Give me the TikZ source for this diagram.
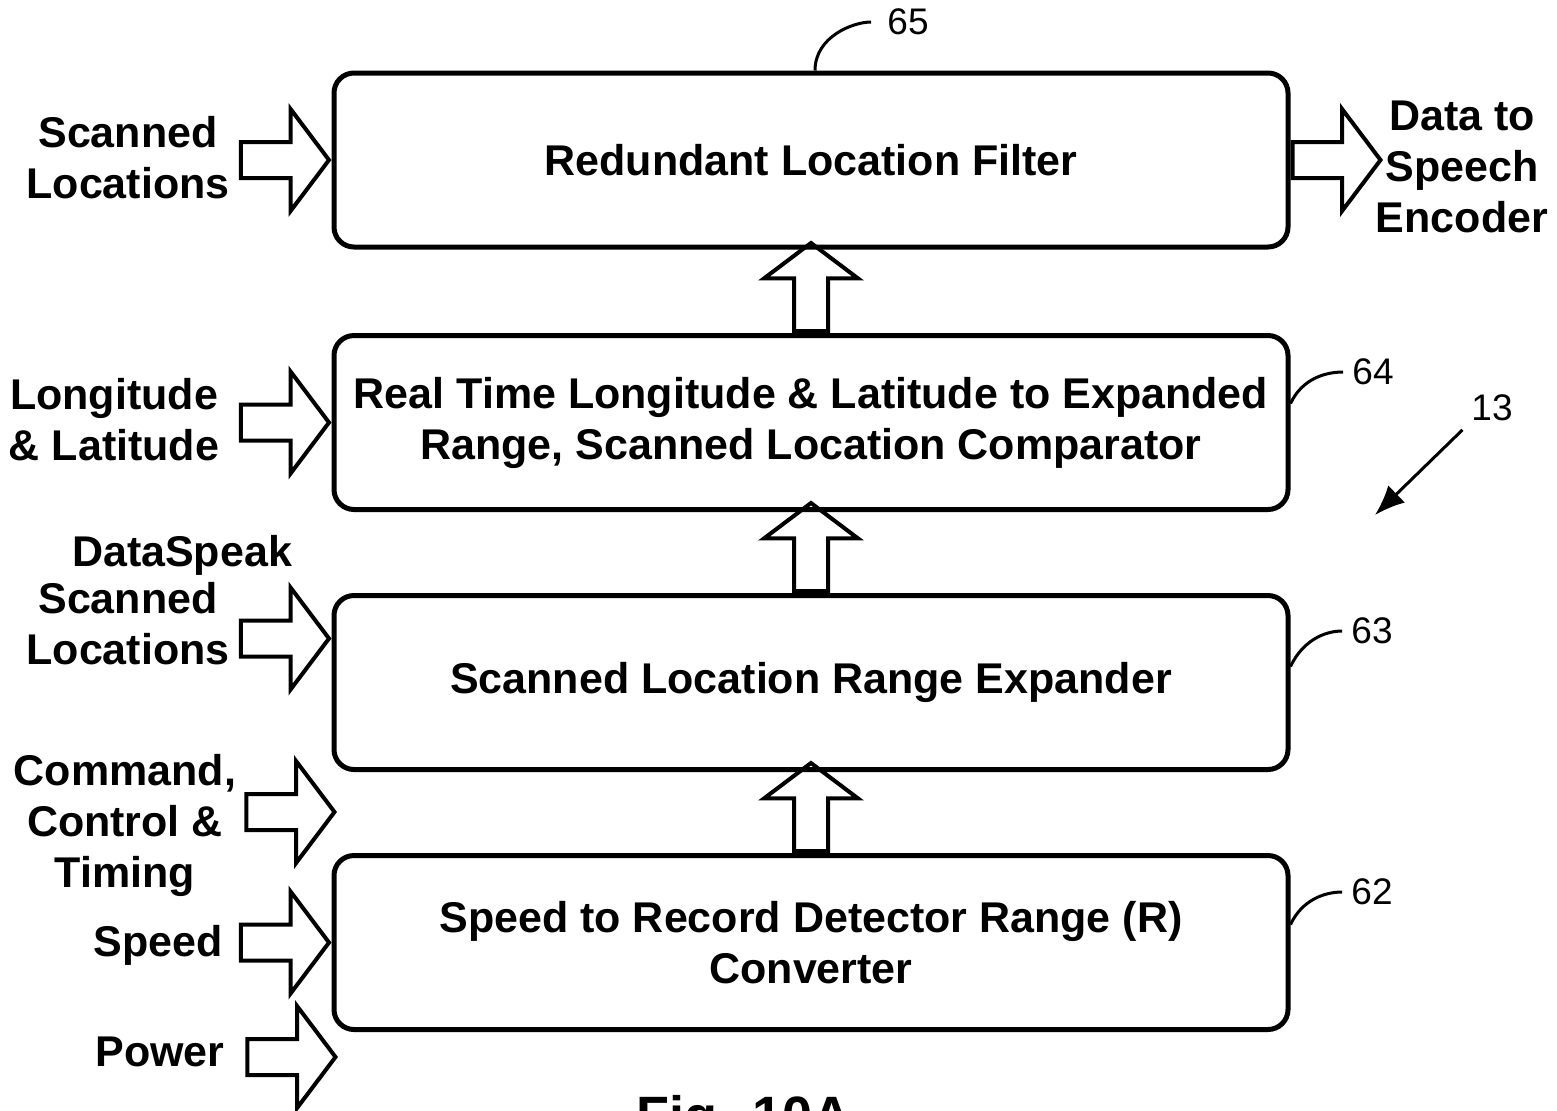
\documentclass[tikz,border=0pt]{standalone}
\usepackage{fontspec}
\setmainfont{Liberation Sans}
\usetikzlibrary{shapes.arrows,arrows.meta}

\tikzset{
  block/.style={draw,line width=2.5pt,rounded corners=10pt,minimum width=477pt,minimum height=87pt,align=center,font=\bfseries\fontsize{21.5}{25.5}\selectfont},
  fat/.style={single arrow,draw,line width=2pt,inner xsep=0pt,inner ysep=8pt,minimum height=44pt,minimum width=49pt,single arrow head extend=16.5pt,single arrow tip angle=106},
  upfat/.style={fat,inner xsep=7.5pt,inner ysep=0pt,minimum width=0pt,single arrow head extend=15pt,shape border rotate=90,anchor=tail},
  lbl/.style={align=center,inner sep=0pt,font=\bfseries\fontsize{21.5}{25.5}\selectfont},
  refnum/.style={inner sep=0pt,font=\fontsize{18.5}{22}\selectfont},
  leader/.style={line width=1.5pt}
}

\begin{document}
\begin{tikzpicture}[x=0.5pt,y=-0.5pt]
  \useasboundingbox (0,0) rectangle (1557,1110);
  \node[block] (b65) at (811,160) {Redundant Location Filter};
  \node[block] (b64) at (811,422.5) {Real Time Longitude \& Latitude to Expanded\\Range, Scanned Location Comparator};
  \node[block] (b63) at (811,682.5) {Scanned Location Range Expander};
  \node[block] (b62) at (811,942.5) {Speed to Record Detector Range (R)\\Converter};
  \node[upfat] (up64) at (b64.north) {};
  \node[upfat] (up63) at (b63.north) {};
  \node[upfat] (up62) at (b62.north) {};
  \node[fat,anchor=tip] (inScan) at (b65.west) {};
  \node[fat,anchor=tip] (inLonLat) at (b64.west) {};
  \node[fat,anchor=tip] (inDataSpeak) at ([yshift=22pt]b63.west) {};
  \node[fat,anchor=tip] (inCmd) at (337,812) {};
  \node[fat,anchor=tip] (inSpeed) at (b62.west) {};
  \node[fat,anchor=tip] (inPower) at (338,1057) {};
  \node[fat,anchor=tail] (outData) at (b65.east) {};
  \node[lbl] (tScan) at (128,158) {Scanned\\Locations};
  \node[lbl] (tLonLat) at (114,420) {Longitude\\\& Latitude};
  \node[lbl,anchor=base] (tDataSpeak) at (182,566) {DataSpeak};
  \node[lbl] (tDSScan) at (128,624) {Scanned\\Locations};
  \node[lbl] (tCmd) at (125,825) {Command,\\Control \&\\Timing};
  \node[lbl,anchor=base] (tSpeed) at (158,956) {Speed};
  \node[lbl,anchor=base] (tPower) at (160,1066) {Power};
  \node[lbl] (tOut) at (1462,167) {Data to\\Speech\\Encoder};
  \node[refnum] (n65) at (908,22) {65};
  \node[refnum] (n64) at (1373,372) {64};
  \node[refnum] (n63) at (1372,631) {63};
  \node[refnum] (n62) at (1372,892) {62};
  \node[refnum] (n13) at (1492,408) {13};
  \draw[leader,shorten >=8pt] ([xshift=2pt]b65.north) to[out=90,in=180] (n65.west);
  \draw[leader,shorten >=4.5pt] ([yshift=9.5pt]b64.east) to[out=65,in=180] (n64.west);
  \draw[leader,shorten >=4.5pt] ([yshift=8pt]b63.east) to[out=65,in=180] (n63.west);
  \draw[leader,shorten >=4.5pt] ([yshift=9pt]b62.east) to[out=65,in=180] (n62.west);
  \coordinate (p13) at (1375,515);
  \draw[leader,shorten <=6pt,-{Latex[length=15pt,width=12pt]}] (n13.south west) -- (p13);
  \node[font=\bfseries\fontsize{27}{32}\selectfont,anchor=base] (fig) at (744,1134) {Fig. 10A};
\end{tikzpicture}
\end{document}
